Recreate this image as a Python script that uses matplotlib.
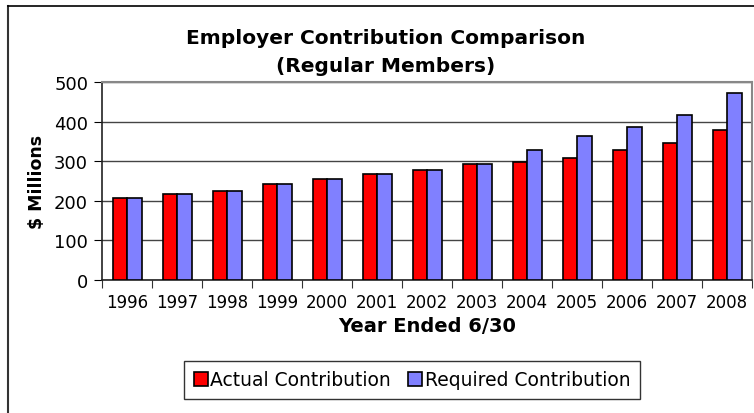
import numpy as np
from matplotlib import pyplot as plt
from matplotlib.lines import Line2D

years = ['1996', '1997', '1998', '1999', '2000', '2001', '2002',
         '2003', '2004', '2005', '2006', '2007', '2008']
actual = [207, 218, 225, 243, 256, 267, 279, 292, 298, 309, 328, 345, 380]
required = [207, 218, 225, 243, 256, 267, 279, 292, 328, 363, 387, 417, 471]

plt.rcParams['font.family'] = ['DejaVu Sans']

W, H = 754, 414
fig = plt.figure(figsize=(W / 100, H / 100), dpi=100)

# plot area in pixels: x 102..752, y 83..281
ax = fig.add_axes([102 / W, (H - 281) / H, 650 / W, 198 / H])

x = np.arange(len(years))
bw = 0.29
ax.bar(x - bw / 2, actual, bw, color='#FF0000', edgecolor='black',
       linewidth=1.2, label='Actual Contribution', zorder=3)
ax.bar(x + bw / 2, required, bw, color='#8080FF', edgecolor='black',
       linewidth=1.2, label='Required Contribution', zorder=3)

ax.set_xlim(-0.5, len(years) - 0.5)
ax.set_ylim(0, 500)
ax.set_yticks(range(0, 501, 100))
ax.yaxis.grid(True, color='#444444', linewidth=1, zorder=0)

# category ticks between groups, labels centered
ax.set_xticks(np.arange(len(years) + 1) - 0.5)
ax.set_xticklabels([])
ax.set_xticks(x, minor=True)
ax.set_xticklabels(years, minor=True)
ax.tick_params(axis='x', which='major', length=6, direction='out', color='#333333')
ax.tick_params(axis='x', which='minor', length=0, labelsize=12, pad=9)
ax.tick_params(axis='y', length=6, direction='out', labelsize=13, pad=4)

for s in ['left', 'bottom']:
    ax.spines[s].set_color('#222222')
    ax.spines[s].set_linewidth(1.2)
for s in ['top', 'right']:
    ax.spines[s].set_color('#888888')
    ax.spines[s].set_linewidth(1.5)

ax.set_ylabel('$ Millions', fontsize=12.5, fontweight='bold', labelpad=6)
ax.set_xlabel('Year Ended 6/30', fontsize=14, fontweight='bold', labelpad=4)

fig.text(386 / W, 1 - 38 / H, 'Employer Contribution Comparison',
         ha='center', va='center', fontsize=14.5, fontweight='bold')
fig.text(386 / W, 1 - 67 / H, '(Regular Members)',
         ha='center', va='center', fontsize=14.5, fontweight='bold')

leg = fig.legend(loc='center', bbox_to_anchor=(412 / W, 1 - 381 / H), ncol=2,
                 fontsize=13.5, frameon=True, fancybox=False, edgecolor='black',
                 handlelength=0.75, handleheight=0.75, handletextpad=0.15,
                 columnspacing=0.9, borderpad=0.5)
leg.get_frame().set_linewidth(1)

# outer chart border (left and top visible)
fig.add_artist(Line2D([8 / W, 8 / W], [0, 1 - 7 / H], color='#333333',
                      linewidth=1.5, transform=fig.transFigure))
fig.add_artist(Line2D([8 / W, 1], [1 - 7 / H, 1 - 7 / H], color='black',
                      linewidth=1.2, transform=fig.transFigure))

fig.savefig('out.png', dpi=100)
